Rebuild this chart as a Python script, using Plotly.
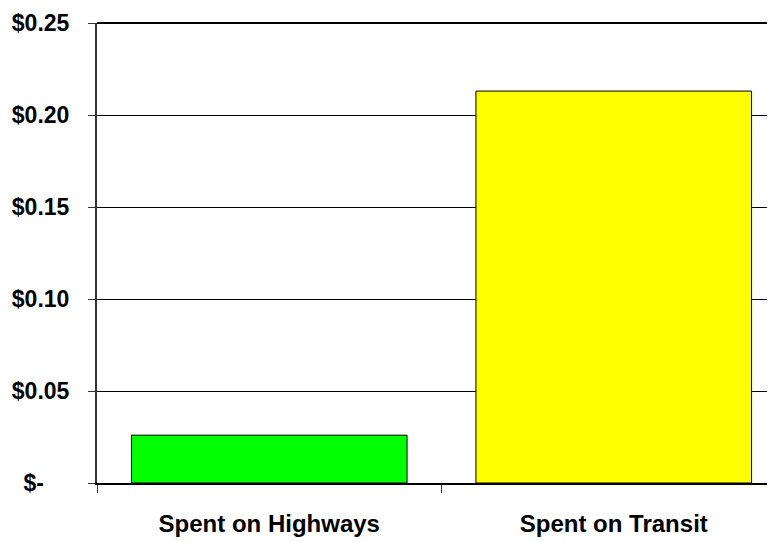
import plotly.graph_objects as go

categories = ["Spent on Highways", "Spent on Transit"]
values = [0.026, 0.213]
bar_colors = ["#00FF00", "#FFFF00"]
tick_vals = [0, 0.05, 0.10, 0.15, 0.20, 0.25]
tick_text = ["$-\u00a0\u00a0\u00a0\u00a0", "$0.05", "$0.10", "$0.15", "$0.20", "$0.25"]

fig = go.Figure(go.Bar(
    x=categories, y=values,
    marker=dict(color=bar_colors, line=dict(color="black", width=1)),
    width=0.8,
))

FONT = "Liberation Sans, Arial, sans-serif"
font = dict(family=FONT, size=23, color="black")

fig.update_layout(
    width=775, height=542,
    margin=dict(l=89, r=8, t=15, b=67),
    paper_bgcolor="white", plot_bgcolor="white",
    showlegend=False,
    font=font,
    xaxis=dict(
        range=[-0.5, 1.468],
        automargin=False,
        showline=True, linecolor="black", linewidth=2,
        ticks="outside", tickson="boundaries", ticklen=8, tickcolor="#333", tickwidth=1,
        tickfont=dict(family=FONT, size=24, color="black"),
        ticklabelstandoff=18,
        showgrid=False, zeroline=False,
        tickprefix="<b>", ticksuffix="</b>",
    ),
    yaxis=dict(
        range=[0, 0.25],
        automargin=False,
        tickvals=tick_vals, ticktext=["<b>" + t + "</b>" for t in tick_text],
        showline=True, linecolor="#333", linewidth=2,
        ticks="outside", ticklen=7, tickcolor="#333", tickwidth=1,
        showgrid=True, gridcolor="black", gridwidth=1,
        zeroline=False,
        tickfont=dict(family=FONT, size=23, color="black"),
        ticklabelstandoff=14,
    ),
)

fig.add_shape(type="line", xref="paper", yref="paper", x0=0, x1=1, y0=1, y1=1,
              line=dict(color="black", width=2))

fig.write_html("out.html")
